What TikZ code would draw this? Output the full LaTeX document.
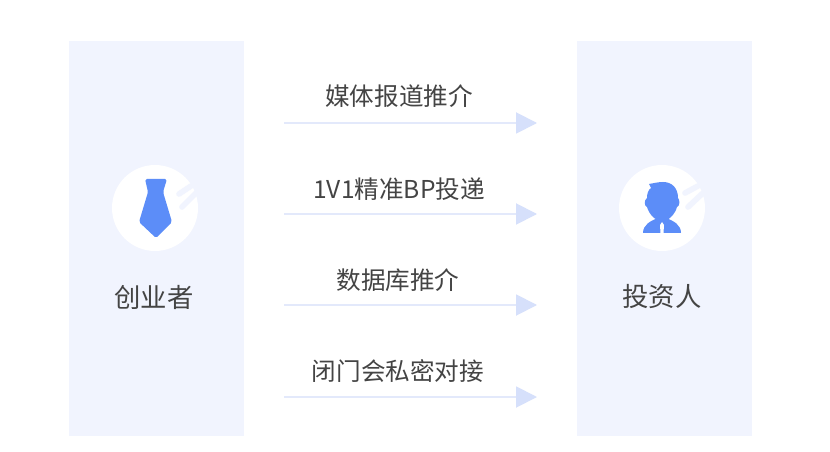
\documentclass[tikz,border=0pt]{standalone}
\usepackage{fontspec}
\usepackage{tikz}
\usetikzlibrary{arrows.meta}
\setmainfont{Noto Sans CJK SC}
\definecolor{panelblue}{HTML}{F1F4FE}
\definecolor{lineblue}{HTML}{E3E9FB}
\definecolor{tipblue}{HTML}{D6E0FB}
\definecolor{iconblue}{HTML}{5C8DF8}
\definecolor{textgray}{HTML}{444444}
\tikzset{
	panel/.style={fill=panelblue,minimum width=3.5cm,minimum height=7.9cm},
	badge/.style={circle,fill=white,minimum size=1.72cm},
	flow/.style={lineblue,line width=1.1pt,-{Triangle[length=0.42cm,width=0.42cm,color=tipblue]}},
	flowtext/.style={text=textgray,font=\fontsize{14}{16}\selectfont},
	roletext/.style={text=textgray,font=\fontsize{15}{18}\selectfont},
	stripe/.style={panelblue,line width=3.2pt,line cap=round}
}
\begin{document}
\begin{tikzpicture}[x=0.02cm,y=0.02cm]
	\tikzstyle{every node}+=[inner sep=0pt]
	\useasboundingbox (0,0) rectangle (830,-452);
	\fill [white] (0,0) rectangle (830,-452);
	% panels
	\node [panel] (founder) at (156.5,-238.5) {};
	\node [panel] (investor) at (664.5,-238.5) {};
	\node [badge] (founderbadge) at (155,-208) {};
	\node [badge] (investorbadge) at (662,-208) {};
	\node [roletext] (foundertext) at (154,-297) {创业者};
	\node [roletext] (investortext) at (662,-297) {投资人};
	% marks on the badges
	\draw [stripe] (179,-194) -- (191,-186);
	\draw [stripe] (182,-207) -- (196,-193);
	\draw [stripe] (685,-193) -- (698,-186);
	\draw [stripe] (688,-207) -- (703,-193);
	% tie
	\fill [iconblue,rounded corners=1pt] (145,-179) -- (167,-179) -- (163,-192) -- (172,-222) -- (156,-238) -- (139,-222) -- (148,-192) -- cycle;
	% person
	\fill [iconblue] (649,-184) .. controls (655,-183) and (658,-182) .. (663,-182)
		.. controls (672,-182) and (678,-188) .. (678,-198)
		.. controls (680,-200) and (680,-206) .. (677,-207)
		.. controls (675,-214) and (669,-221) .. (662,-221)
		.. controls (655,-221) and (649,-214) .. (647,-207)
		.. controls (644,-206) and (644,-200) .. (647,-198)
		.. controls (647,-194) and (648,-190) .. (651,-188) -- cycle;
	\fill [iconblue] (643,-233) .. controls (643,-225) and (650,-221) .. (658,-218) -- (666,-218) .. controls (674,-221) and (681,-225) .. (681,-233) -- cycle;
	\fill [white] (662,-222) -- (664,-225) -- (663.5,-233) -- (660.5,-233) -- (660,-225) -- cycle;
	% arrows
	\coordinate (mediastart) at (284,-123);
	\coordinate (mediaend) at (537,-123);
	\coordinate (pitchstart) at (284,-214);
	\coordinate (pitchend) at (537,-214);
	\coordinate (basestart) at (284,-305);
	\coordinate (baseend) at (537,-305);
	\coordinate (closedstart) at (284,-397);
	\coordinate (closedend) at (537,-397);
	\draw [flow] (mediastart) -- (mediaend);
	\draw [flow] (pitchstart) -- (pitchend);
	\draw [flow] (basestart) -- (baseend);
	\draw [flow] (closedstart) -- (closedend);
	\node [flowtext] (mediatext) at (399,-96) {媒体报道推介};
	\node [flowtext] (pitchtext) at (399,-189) {1V1精准BP投递};
	\node [flowtext] (basetext) at (398,-280) {数据库推介};
	\node [flowtext] (closedtext) at (398,-371) {闭门会私密对接};
\end{tikzpicture}
\end{document}
